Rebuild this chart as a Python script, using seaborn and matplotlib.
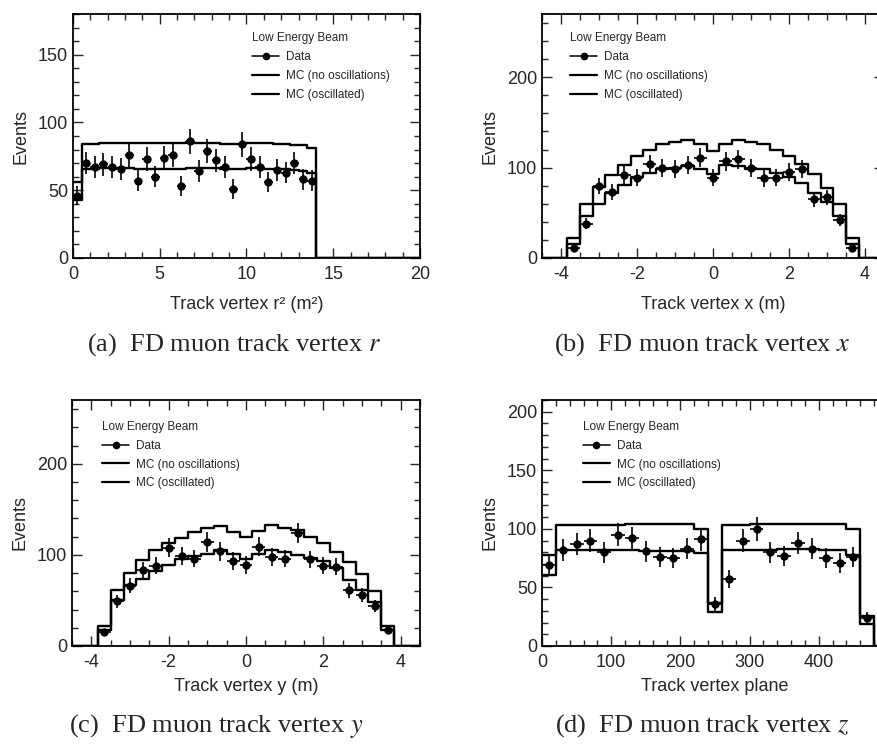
import numpy as np
import pandas as pd
import matplotlib
matplotlib.use("Agg")
import matplotlib.pyplot as plt
from matplotlib.lines import Line2D
from matplotlib.ticker import MultipleLocator
import seaborn as sns

# ---------------------------------------------------------------------------
# Data (events per bin)
# ---------------------------------------------------------------------------
# (a) track vertex r^2, bins of 0.5 m^2 starting at 0
r2_data = [46, 70, 67, 69, 67, 66, 76, 57, 73, 60, 74, 76, 53, 86, 64, 79,
           72, 67, 51, 84, 73, 67, 56, 65, 63, 70, 58, 57]
r2_mc_noosc = [56, 84, 84, 84.5, 84.5, 85, 85, 85, 85, 85, 85, 85, 85, 85.5,
               85, 84.5, 84.5, 84, 84, 84, 84.5, 84.5, 84.5, 84, 84, 83.5, 83, 81]
r2_mc_osc = [43, 66, 66, 66.5, 66.5, 66.5, 66.5, 66, 66, 66, 66, 66, 66, 66.5,
             66.5, 66.5, 66.5, 66, 66, 66, 66.5, 66.5, 66, 66, 65.5, 65, 64.5, 63]

# (b) track vertex x, bins of 1/3 m centred on -11/3 ... 11/3
x_data = [11, 38, 80, 73, 92, 89, 104, 100, 98, 103, 111, 89, 107, 109, 100,
          88, 89, 95, 99, 65, 67, 42, 11]
x_mc_noosc = [22, 60, 79, 92, 103, 113, 119, 126, 128, 131, 126, 118, 126, 131,
              128, 126, 119, 113, 104, 93, 78, 60, 22]
x_mc_osc = [16, 46, 60, 72, 81, 90, 94, 98, 100, 102, 99, 93, 103, 102, 99, 98,
            94, 90, 83, 72, 62, 46, 16]

# (c) track vertex y, same binning as x
y_data = [15, 49, 66, 83, 88, 108, 99, 96, 114, 104, 93, 89, 109, 98, 96, 124,
          95, 88, 87, 61, 56, 44, 18]
y_mc_noosc = [22, 61, 80, 94, 105, 113, 118, 125, 129, 132, 125, 120, 126, 133,
              130, 127, 120, 113, 103, 92, 79, 60, 22]
y_mc_osc = [18, 50, 67, 74, 82, 89, 95, 99, 101, 105, 101, 95, 101, 105, 103,
            100, 97, 93, 86, 72, 61, 48, 18]

# (d) track vertex plane, bins of 20 planes starting at 0
z_data = [69, 82, 87, 90, 80, 95, 92, 81, 76, 75, 83, 91, 36, 57, 90, 100, 80,
          77, 88, 83, 75, 71, 76, 24]
z_mc_noosc = [78, 103, 103.5, 103.5, 103.5, 103.5, 104, 104, 104, 104, 104, 100,
              37, 103, 103.5, 104, 104, 104.5, 104.5, 104.5, 104.5, 104, 100, 26]
z_mc_osc = [61, 82, 82, 82, 82, 82, 82, 81.5, 81.5, 81.5, 81.5, 79, 29, 82, 82,
            82, 82, 82.5, 82.5, 82.5, 82, 82, 78, 19]

# ---------------------------------------------------------------------------
# Style
# ---------------------------------------------------------------------------
sns.set_style("ticks")
plt.rcParams["font.family"] = ["Liberation Sans", "DejaVu Sans"]
plt.rcParams["mathtext.fontset"] = "stix"
plt.rcParams["axes.unicode_minus"] = False
plt.rcParams["axes.linewidth"] = 1.3
plt.rcParams["axes.edgecolor"] = "black"

W, H = 878, 749
fig = plt.figure(figsize=(W / 100, H / 100), dpi=100)


def px_axes(left, top, right, bottom):
    return fig.add_axes([left / W, 1 - bottom / H, (right - left) / W, (bottom - top) / H])


def draw_panel(ax, edges, first_center, width, data, noosc, osc, xlim, ylim,
               xmaj, xmin, ymaj, ymin, xlabel, xlabelpad, leg_xy):
    centers = first_center + width * np.arange(len(data))
    df = pd.DataFrame({"x": centers, "data": data, "noosc": noosc, "osc": osc})
    for col in ("noosc", "osc"):
        sns.histplot(data=df, x="x", weights=col, bins=list(edges), element="step",
                     fill=False, color="black", linewidth=1.7, ax=ax)
    ax.errorbar(df["x"], df["data"], yerr=np.sqrt(df["data"]), xerr=width / 2,
                fmt="o", color="black", ms=5, elinewidth=1.2, capsize=0)

    ax.set_xlim(*xlim)
    ax.set_ylim(*ylim)
    ax.set_xticks(xmaj)
    ax.xaxis.set_minor_locator(MultipleLocator(xmin))
    ax.yaxis.set_major_locator(MultipleLocator(ymaj))
    ax.yaxis.set_minor_locator(MultipleLocator(ymin))
    ax.set_xlim(*xlim)
    ax.tick_params(which="both", direction="in", top=True, right=True, width=1,
                   labelsize=13)
    ax.tick_params(which="major", length=7)
    ax.tick_params(which="minor", length=4)
    ax.tick_params(axis="x", pad=6)
    ax.set_xlabel(xlabel, fontsize=13, labelpad=xlabelpad)
    ax.set_ylabel("Events", fontsize=13, labelpad=6)

    handles = [
        Line2D([], [], color="black", marker="o", ms=4.5, lw=1.1),
        Line2D([], [], color="black", lw=1.6),
        Line2D([], [], color="black", lw=1.6),
    ]
    labels = ["Data", "MC (no oscillations)", "MC (oscillated)"]
    ax.legend(handles, labels, title="Low Energy Beam", loc="upper left",
              bbox_to_anchor=leg_xy, frameon=False, fontsize=8.5,
              title_fontsize=8.5, alignment="left", handlelength=2.3,
              handletextpad=0.6, labelspacing=0.58, borderpad=0,
              borderaxespad=0)


ax_a = px_axes(73, 14, 420, 258)
draw_panel(ax_a, np.arange(0, 20.01, 0.5), 0.25, 0.5, r2_data, r2_mc_noosc, r2_mc_osc,
           (0, 20), (0, 180), [0, 5, 10, 15, 20], 1, 50, 10,
           "Track vertex r² (m²)", 9, (0.516, 0.925))

ax_b = px_axes(542, 14, 884, 258)
draw_panel(ax_b, np.linspace(-4.5, 4.5, 28), -11 / 3, 1 / 3, x_data, x_mc_noosc, x_mc_osc,
           (-4.5, 4.5), (0, 270), [-4, -2, 0, 2, 4], 0.5, 100, 20,
           "Track vertex x (m)", 9, (0.082, 0.925))

ax_c = px_axes(72, 400, 420, 646)
draw_panel(ax_c, np.linspace(-4.5, 4.5, 28), -11 / 3, 1 / 3, y_data, y_mc_noosc, y_mc_osc,
           (-4.5, 4.5), (0, 270), [-4, -2, 0, 2, 4], 0.5, 100, 20,
           "Track vertex y (m)", 5, (0.086, 0.915))

ax_d = px_axes(542, 400, 888, 646)
draw_panel(ax_d, np.arange(0, 500.1, 20), 10, 20, z_data, z_mc_noosc, z_mc_osc,
           (0, 500), (0, 210), [0, 100, 200, 300, 400], 20, 50, 10,
           "Track vertex plane", 5, (0.118, 0.915))

cap_kw = dict(fontsize=19, family=["Liberation Serif", "DejaVu Serif"], ha="center",
              va="center")
fig.text(234 / W, 1 - 345 / H, "(a)  FD muon track vertex $r$", **cap_kw)
fig.text(702 / W, 1 - 345 / H, "(b)  FD muon track vertex $x$", **cap_kw)
fig.text(216 / W, 1 - 726 / H, "(c)  FD muon track vertex $y$", **cap_kw)
fig.text(702 / W, 1 - 726 / H, "(d)  FD muon track vertex $z$", **cap_kw)

fig.savefig("out.png", dpi=100)
